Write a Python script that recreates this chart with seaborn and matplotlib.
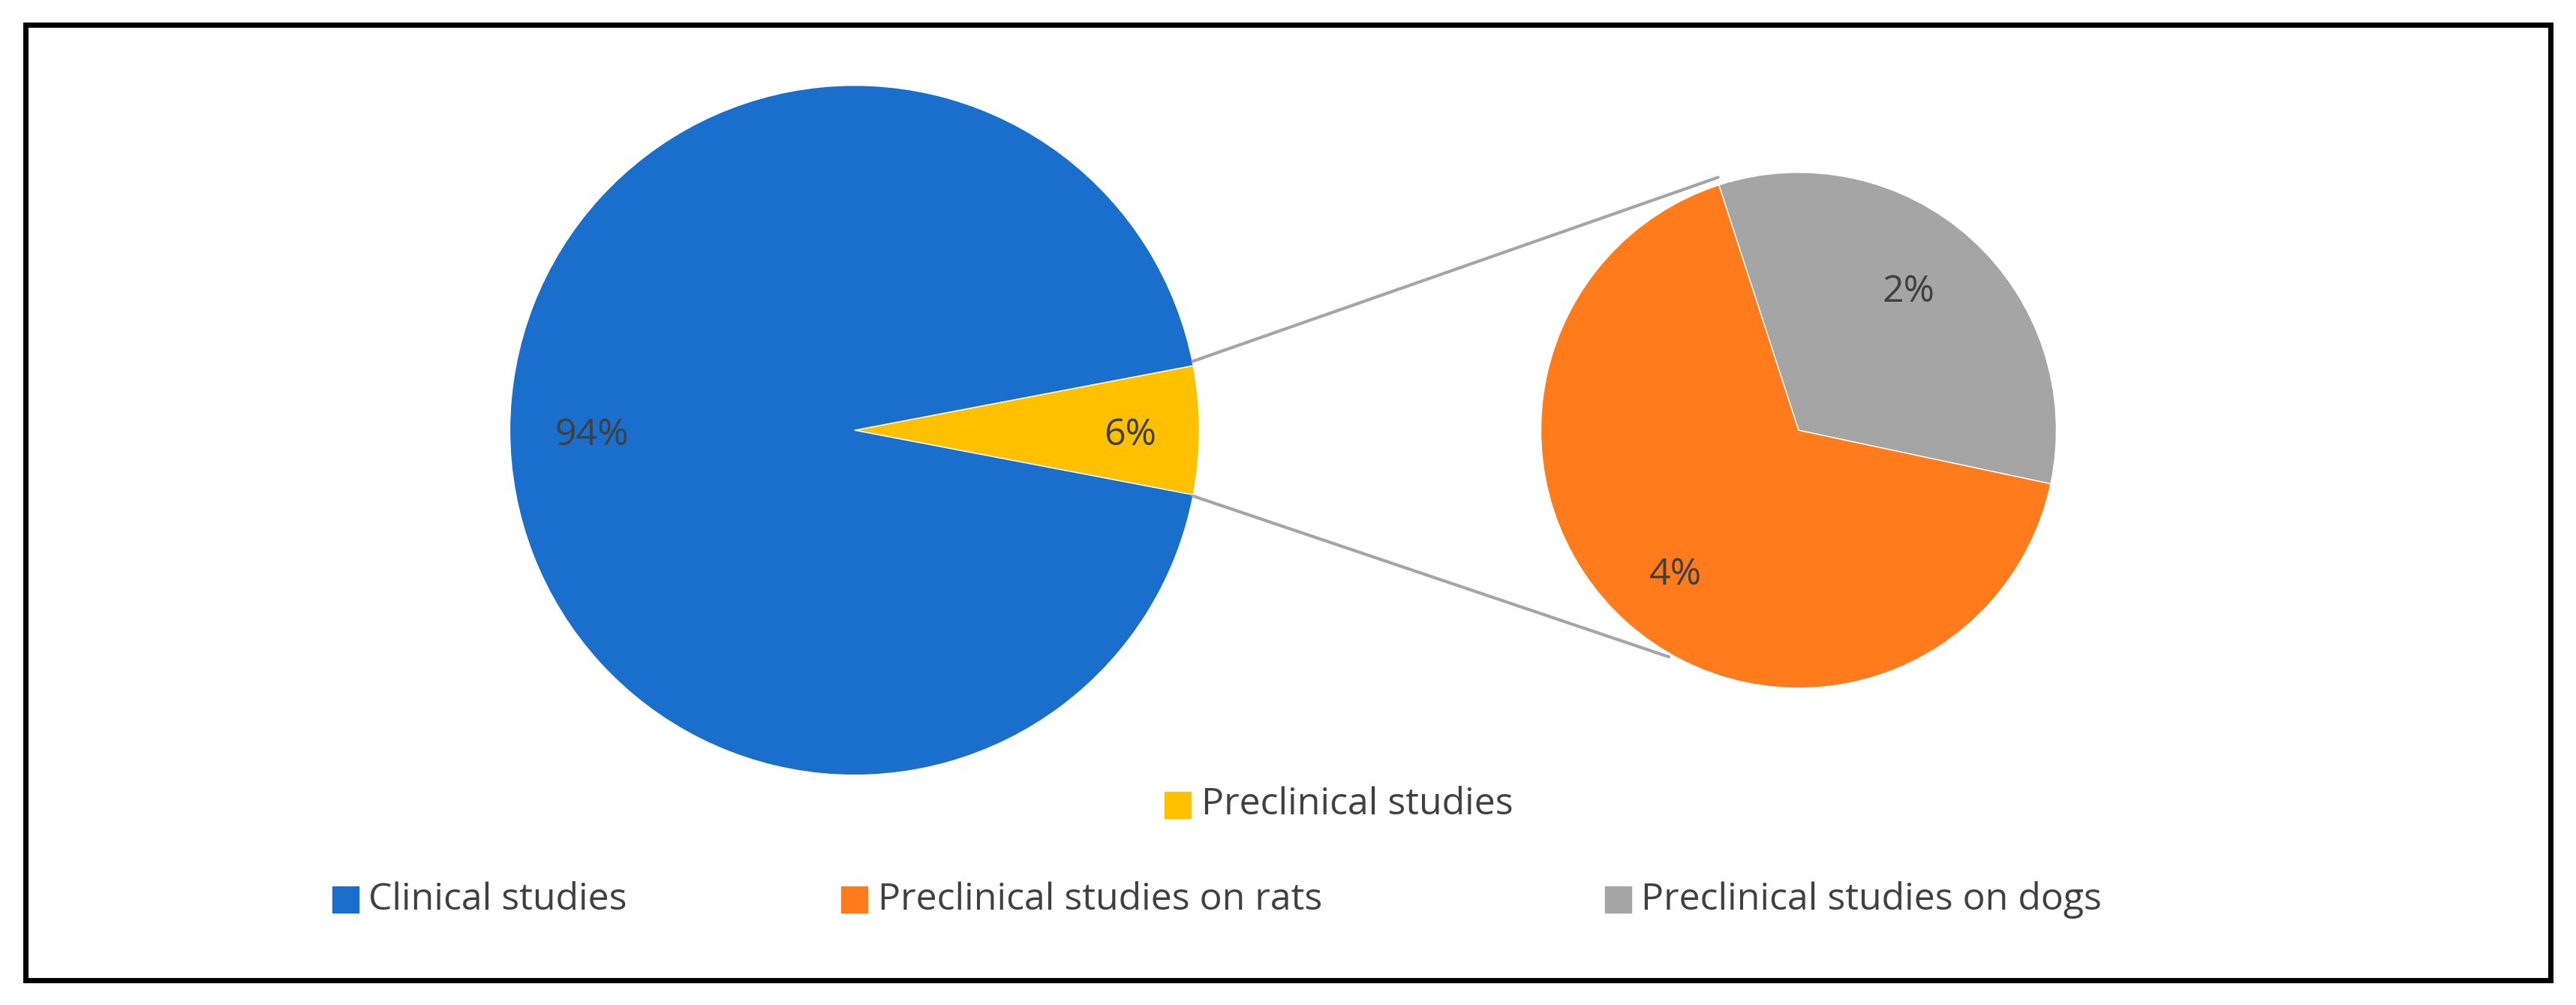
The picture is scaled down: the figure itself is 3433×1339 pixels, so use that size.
import matplotlib.pyplot as plt
import seaborn as sns
from matplotlib.patches import Rectangle

sns.set_theme(style="white")
plt.rcParams['font.family'] = ['Open Sans', 'DejaVu Sans']

main_labels = ["Preclinical studies", "Clinical studies"]
main_values = [6, 94]
sub_labels = ["Preclinical studies on dogs", "Preclinical studies on rats"]
sub_values = [2, 4]

c_blue, c_yellow, c_orange, c_gray = "#1a6fcc", "#ffc000", "#ff7b1c", "#a5a5a5"
txt = "#404040"

W, H = 1568, 612
fig = plt.figure(figsize=(34.33, 13.39), dpi=100)
ax = fig.add_axes([0, 0, 1, 1])
ax.set_xlim(0, W)
ax.set_ylim(0, H)
ax.axis("off")

def Y(y):
    return H - y

# main pie, small wedge centered at 0 deg
ang = 360 * main_values[0] / sum(main_values)
ax.pie(main_values, colors=[c_yellow, c_blue], startangle=-ang / 2,
       center=(520, Y(262)), radius=210, frame=True)
ax.pie(sub_values, colors=[c_gray, c_orange], startangle=-12,
       center=(1095, Y(262)), radius=157, frame=True)
ax.set_xlim(0, W)
ax.set_ylim(0, H)
ax.set_aspect("equal")
ax.axis("off")

# connector lines
ax.plot([726, 1046], [Y(220), Y(108)], color="#a5a5a5", lw=3)
ax.plot([726, 1016], [Y(302), Y(400)], color="#a5a5a5", lw=3)

fs = 36
ax.text(360, Y(265), f"{main_values[1]}%", fontsize=fs, color=txt, ha="center", va="center")
ax.text(688, Y(265), f"{main_values[0]}%", fontsize=fs, color=txt, ha="center", va="center")
ax.text(1162, Y(178), f"{sub_values[0]}%", fontsize=fs, color=txt, ha="center", va="center")
ax.text(1020, Y(350), f"{sub_values[1]}%", fontsize=fs, color=txt, ha="center", va="center")

# legend
def leg(x, y, color, label):
    ax.add_patch(Rectangle((x - 8, Y(y) - 8), 16, 16, color=color))
    ax.text(x + 14, Y(y), label, fontsize=fs, color=txt, va="center", ha="left")

leg(717, 490, c_yellow, main_labels[0])
leg(210, 548, c_blue, main_labels[1])
leg(520, 548, c_orange, sub_labels[1])
leg(985, 548, c_gray, sub_labels[0])

ax.add_patch(Rectangle((15, Y(597)), 1538, 582, fill=False, ec="black", lw=5))

fig.savefig("out.png", dpi=100)
